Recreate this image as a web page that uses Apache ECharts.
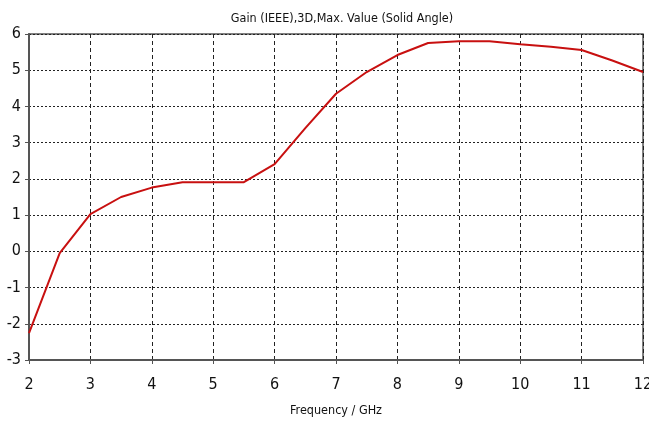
<!DOCTYPE html>
<html>
<head>
<meta charset="utf-8">
<script src="https://cdn.jsdelivr.net/npm/echarts@6/dist/echarts.min.js"></script>
<style>
  html, body { margin: 0; padding: 0; background: #fff; }
  #chart { width: 649px; height: 423px; }
</style>
</head>
<body>
<div id="chart"></div>
<script>
// frequency in GHz, gain in dB
var freq = [2, 2.5, 3, 3.5, 4, 4.5, 5, 5.5, 6, 6.5, 7, 7.5, 8, 8.5, 9, 9.5, 10, 10.5, 11, 11.5, 12]
var gain = [-2.26, -0.05, 1.03, 1.5, 1.76, 1.91, 1.91, 1.91, 2.41, 3.4, 4.35, 4.95, 5.42, 5.75, 5.8, 5.8, 5.72, 5.65, 5.56, 5.27, 4.95]

var font = '"Liberation Sans Narrow", "DejaVu Sans Condensed", sans-serif'

var chart = echarts.init(document.getElementById('chart'))
var option = {
  backgroundColor: '#fff',
  animation: false,
  title: {
    text: 'Gain (IEEE),3D,Max. Value (Solid Angle)',
    left: 337,
    textAlign: 'center',
    top: 7,
    textStyle: { fontFamily: font, fontSize: 12.5, fontWeight: 'normal', color: '#111' }
  },
  grid: {
    left: 29,
    right: 6,
    top: 34,
    bottom: 63,
    outerBoundsMode: 'none',
    containLabel: false,
    show: true,
    borderColor: '#555',
    borderWidth: 1.5
  },
  xAxis: {
    type: 'value',
    min: 2,
    max: 12,
    interval: 1,
    name: 'Frequency / GHz',
    nameLocation: 'middle',
    nameGap: 44,
    nameTextStyle: { fontFamily: font, fontSize: 12.5, color: '#111' },
    axisLine: { onZero: false, lineStyle: { color: '#555', width: 2 } },
    axisTick: { show: true, length: 4, lineStyle: { color: '#555' } },
    axisLabel: { fontFamily: font, fontSize: 16, color: '#111', margin: 17 },
    splitLine: { show: true, lineStyle: { color: '#222', type: [4, 3], width: 1 } }
  },
  yAxis: {
    type: 'value',
    min: -3,
    max: 6,
    interval: 1,
    axisLine: { onZero: false, show: true, lineStyle: { color: '#555', width: 2 } },
    axisTick: { show: true, length: 4, lineStyle: { color: '#555' } },
    axisLabel: { fontFamily: font, fontSize: 16, color: '#111', margin: 8 },
    splitLine: { show: true, lineStyle: { color: '#222', type: [2, 2], width: 1 } }
  },
  series: [
    {
      type: 'line',
      data: freq.map(function (f, i) { return [f, gain[i]] }),
      showSymbol: false,
      lineStyle: { color: '#c81010', width: 2 }
    }
  ]
}
chart.setOption(option)
</script>
</body>
</html>
